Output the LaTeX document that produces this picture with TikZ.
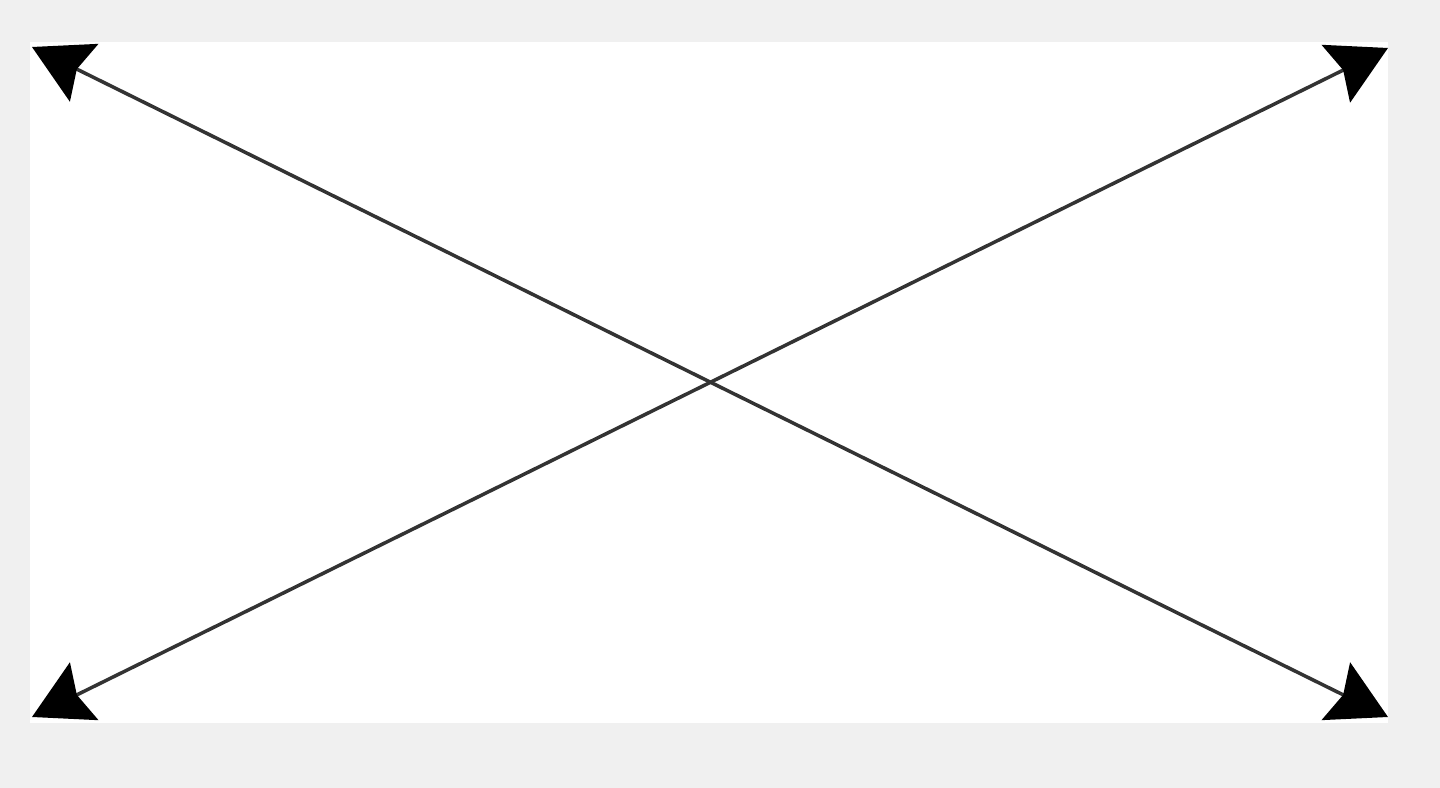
\documentclass[tikz,border=0pt]{standalone}
\usepackage{tikz}
\usetikzlibrary{arrows.meta}

\begin{document}
\begin{tikzpicture}[scale=1,
  cross/.style={black!80,line width=1pt,{Stealth[length=5.8mm,width=6.4mm,inset=0.8mm,color=black]}-{Stealth[length=5.8mm,width=6.4mm,inset=0.8mm,color=black]}}]
 \fill[black!6](0,0) rectangle (14.4,7.88);
 \fill[white](0.30,0.65) rectangle (13.88,7.46);
 \coordinate (tl) at (0.32,7.41);
 \coordinate (tr) at (13.88,7.40);
 \coordinate (bl) at (0.32,0.71);
 \coordinate (br) at (13.88,0.71);
 \draw[cross](tl)--(br);
 \draw[cross](bl)--(tr);
\end{tikzpicture}
\end{document}
